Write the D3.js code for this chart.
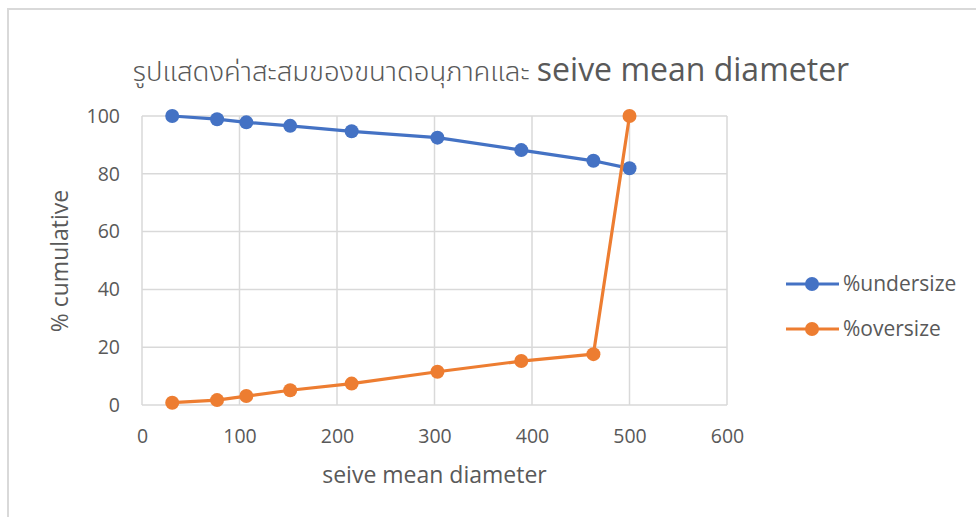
<!DOCTYPE html>
<html>
<head>
<meta charset="utf-8">
<script src="https://cdn.jsdelivr.net/npm/d3@7"></script>
<style>
  html, body { margin: 0; padding: 0; background: #fff; }
  svg { display: block; font-family: "Open Sans", "Noto Sans", sans-serif; }
</style>
</head>
<body>
<svg id="chart" width="976" height="517"></svg>
<script>
// Sieve analysis: cumulative percentages against sieve mean diameter
const diameters = [31, 77, 107, 152, 215, 303, 389, 463, 500];
const undersize = [100, 98.9, 97.8, 96.6, 94.7, 92.5, 88.2, 84.5, 81.9];
const oversize  = [0.8, 1.7, 3.1, 5.1, 7.4, 11.5, 15.2, 17.6, 100];
const seriesNames = ["%undersize", "%oversize"];
const seriesColors = ["#4472C4", "#ED7D31"];
const xTicks = [0, 100, 200, 300, 400, 500, 600];
const yTicks = [0, 20, 40, 60, 80, 100];
const titleThai = "รูปแสดงค่าสะสมของขนาดอนุภาคและ ";
const titleLatin = "seive mean diameter";
const xTitle = "seive mean diameter";
const yTitle = "% cumulative";

const svg = d3.select("#chart");
const W = 976, H = 517;
const plot = { left: 142, right: 727, top: 116, bottom: 405 };
const textColor = "#595959";
const gridColor = "#d9d9d9";

// outer chart frame
svg.append("rect")
  .attr("x", 8).attr("y", 9)
  .attr("width", W + 10).attr("height", H + 10)
  .attr("fill", "#fff")
  .attr("stroke", gridColor).attr("stroke-width", 2);

const x = d3.scaleLinear().domain([0, 600]).range([plot.left, plot.right]);
const y = d3.scaleLinear().domain([0, 100]).range([plot.bottom, plot.top]);

// gridlines
const grid = svg.append("g");
grid.selectAll("line.v").data(xTicks).join("line")
  .attr("x1", d => x(d)).attr("x2", d => x(d))
  .attr("y1", plot.top).attr("y2", plot.bottom)
  .attr("stroke", gridColor).attr("stroke-width", 1.5);
grid.selectAll("line.h").data(yTicks).join("line")
  .attr("x1", plot.left).attr("x2", plot.right)
  .attr("y1", d => y(d)).attr("y2", d => y(d))
  .attr("stroke", gridColor).attr("stroke-width", 1.5);

// axes (labels only; lines come from the grid)
const xAxis = svg.append("g")
  .attr("transform", `translate(0,${plot.bottom})`)
  .call(d3.axisBottom(x).tickValues(xTicks).tickSize(0).tickPadding(24));
const yAxis = svg.append("g")
  .attr("transform", `translate(${plot.left},0)`)
  .call(d3.axisLeft(y).tickValues(yTicks).tickSize(0).tickPadding(22));
[xAxis, yAxis].forEach(a => {
  a.select(".domain").remove();
  a.selectAll("text")
    .attr("fill", textColor)
    .style("font-size", "19.5px")
    .style("font-family", "\"Open Sans\", sans-serif");
});

// series lines and markers
const seriesData = [undersize, oversize];
const line = d3.line().x((d, i) => x(diameters[i])).y(d => y(d));
seriesData.forEach((vals, s) => {
  svg.append("path")
    .datum(vals)
    .attr("d", line)
    .attr("fill", "none")
    .attr("stroke", seriesColors[s])
    .attr("stroke-width", 3.2)
    .attr("stroke-linejoin", "round");
  svg.append("g").selectAll("circle").data(vals).join("circle")
    .attr("cx", (d, i) => x(diameters[i]))
    .attr("cy", d => y(d))
    .attr("r", 7)
    .attr("fill", seriesColors[s]);
});

// title
const title = svg.append("text")
  .attr("x", 491).attr("y", 81)
  .attr("text-anchor", "middle")
  .attr("fill", textColor);
title.append("tspan")
  .style("font-family", "\"Noto Sans Thai\", \"Noto Sans\", \"Liberation Sans\", sans-serif")
  .style("font-size", "27.5px")
  .style("font-weight", "300")
  .text(titleThai);
title.append("tspan")
  .style("font-size", "32px")
  .text(titleLatin);

// axis titles
svg.append("text")
  .attr("x", (plot.left + plot.right) / 2).attr("y", 483)
  .attr("text-anchor", "middle")
  .attr("fill", textColor)
  .style("font-size", "23px")
  .text(xTitle);
svg.append("text")
  .attr("transform", "translate(68,261) rotate(-90)")
  .attr("text-anchor", "middle")
  .attr("fill", textColor)
  .style("font-size", "23px")
  .text(yTitle);

// legend
const legend = svg.append("g");
seriesNames.forEach((name, s) => {
  const ly = 284 + s * 45;
  legend.append("line")
    .attr("x1", 786).attr("x2", 839).attr("y1", ly).attr("y2", ly)
    .attr("stroke", seriesColors[s]).attr("stroke-width", 3.2);
  legend.append("circle")
    .attr("cx", 812).attr("cy", ly).attr("r", 7)
    .attr("fill", seriesColors[s]);
  legend.append("text")
    .attr("x", 843).attr("y", ly).attr("dy", "0.35em")
    .attr("fill", textColor)
    .style("font-size", "21px")
    .text(name);
});
</script>
</body>
</html>
